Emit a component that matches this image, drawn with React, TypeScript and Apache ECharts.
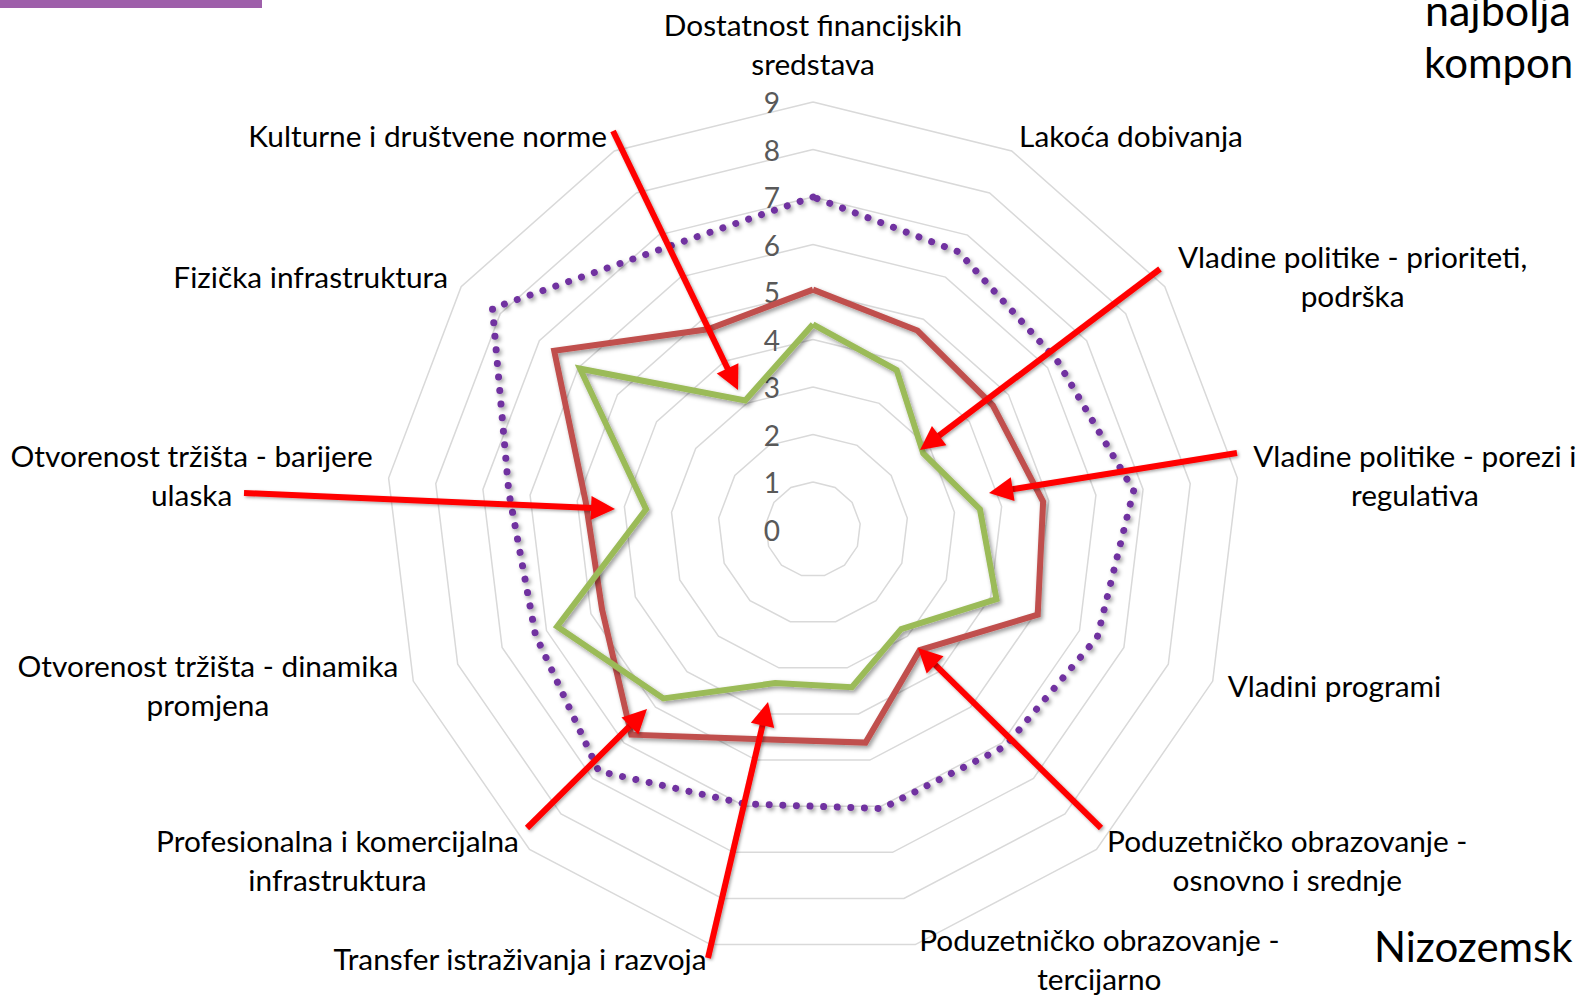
import { useEffect, useRef } from 'react';
import * as echarts from 'echarts';

// Categories, clockwise from the top (Excel order)
const categories: string[] = [
  'Dostatnost financijskih\nsredstava',
  'Lakoća dobivanja',
  'Vladine politike - prioriteti,\npodrška',
  'Vladine politike - porezi i\nregulativa',
  'Vladini programi',
  'Poduzetničko obrazovanje -\nosnovno i srednje',
  'Poduzetničko obrazovanje -\ntercijarno',
  'Transfer istraživanja i razvoja',
  'Profesionalna i komercijalna\ninfrastruktura',
  'Otvorenost tržišta - dinamika\npromjena',
  'Otvorenost tržišta - barijere\nulaska',
  'Fizička infrastruktura',
  'Kulturne i društvene norme',
];

const redValues: number[] = [5.05, 4.73, 4.6, 4.88, 5.06, 3.39, 4.62, 4.55, 5.77, 4.75, 4.82, 6.62, 4.76];
const greenValues: number[] = [4.32, 3.79, 2.82, 3.54, 4.13, 2.8, 3.42, 3.33, 4.75, 5.76, 3.54, 5.96, 3.07];
const purpleValues: number[] = [7.0, 6.6, 6.25, 6.8, 6.4, 6.1, 6.05, 5.95, 6.8, 6.25, 6.45, 8.2, 6.7];

const axisMin = 0;
const axisMax = 9;
const axisSplits = 9;

// annotation arrows: [fromX, fromY, tipX, tipY]
const arrows: number[][] = [
  [613, 131, 738, 390],
  [1160, 269, 920, 450],
  [1237, 453, 989, 493],
  [1101, 828, 918, 648],
  [708, 958, 768, 702],
  [527, 828, 647, 709],
  [244, 493, 615, 509],
];

const FONT = 'Lato, "Open Sans", sans-serif';

function arrowGraphics(a: number[]) {
  const [x1, y1, x2, y2] = a;
  const dx = x2 - x1;
  const dy = y2 - y1;
  const len = Math.sqrt(dx * dx + dy * dy);
  const ux = dx / len;
  const uy = dy / len;
  const headLen = 24;
  const headHalf = 12;
  const bx = x2 - ux * headLen;
  const by = y2 - uy * headLen;
  const px = -uy;
  const py = ux;
  const shadow = { shadowColor: 'rgba(0,0,0,0.35)', shadowBlur: 3, shadowOffsetX: 1.5, shadowOffsetY: 1.5 };
  return [
    {
      type: 'line',
      z: 100,
      shape: { x1, y1, x2: bx + ux * 2, y2: by + uy * 2 },
      style: { stroke: '#FF0000', lineWidth: 6, ...shadow },
    },
    {
      type: 'polygon',
      z: 100,
      shape: {
        points: [
          [x2, y2],
          [bx + px * headHalf, by + py * headHalf],
          [bx - px * headHalf, by - py * headHalf],
        ],
      },
      style: { fill: '#FF0000', ...shadow },
    },
  ];
}

export default function App() {
  const ref = useRef<HTMLDivElement>(null);

  useEffect(() => {
    if (!ref.current) return;
    const chart = echarts.init(ref.current, null, { renderer: 'svg' });

    const n = categories.length;
    // ECharts lays radar indicators out counter-clockwise; reorder to get Excel's clockwise order
    const order = categories.map((_, i) => (n - i) % n);

    const labelStyle = {
      show: true,
      color: '#595959',
      fontFamily: FONT,
      fontSize: 28,
      margin: 33,
      showMinLabel: true,
      showMaxLabel: true,
    };

    const lineShadow = {
      shadowColor: 'rgba(0,0,0,0.4)',
      shadowBlur: 4,
      shadowOffsetX: 2,
      shadowOffsetY: 2.5,
    };

    const option: any = {
      animation: false,
      backgroundColor: '#ffffff',
      radar: {
        center: [813, 529.5],
        radius: 427.5,
        startAngle: 90,
        splitNumber: axisSplits,
        shape: 'polygon',
        nameGap: 16,
        indicator: order.map((k, j) => {
          const ind: any = { name: categories[k], min: axisMin, max: axisMax };
          if (j === 0) ind.axisLabel = { ...labelStyle };
          return ind;
        }),
        axisName: {
          show: true,
          color: '#000000',
          fontFamily: FONT,
          fontSize: 29.8,
          lineHeight: 39,
          padding: [0, 0, 3, 0],
          formatter: (name: string) =>
            name
              .split('\n')
              .map((l) => `{c|${l}}`)
              .join('\n'),
          rich: {
            c: {
              align: 'center',
              color: '#000000',
              fontFamily: FONT,
              fontSize: 29.8,
              lineHeight: 39,
            },
          },
        },
        axisLine: { show: false },
        axisTick: { show: false },
        axisLabel: { show: false },
        splitLine: { lineStyle: { color: '#D9D9D9', width: 1.5 } },
        splitArea: { show: false },
      },
      series: [
        {
          type: 'radar',
          symbol: 'none',
          silent: true,
          data: [
            {
              name: 'Serija 3',
              value: order.map((k) => purpleValues[k]),
              itemStyle: { color: '#7030A0' },
              lineStyle: {
                color: '#7030A0',
                width: 7,
                type: [0.01, 13.6],
                cap: 'round',
                join: 'round',
                ...lineShadow,
              },
            },
            {
              name: 'Serija 1',
              value: order.map((k) => redValues[k]),
              itemStyle: { color: '#C0504D' },
              lineStyle: { color: '#C0504D', width: 6, join: 'miter', ...lineShadow },
            },
            {
              name: 'Serija 2',
              value: order.map((k) => greenValues[k]),
              itemStyle: { color: '#9BBB59' },
              lineStyle: { color: '#9BBB59', width: 6, join: 'miter', ...lineShadow },
            },
          ],
        },
      ],
      graphic: [
        {
          type: 'rect',
          shape: { x: 0, y: 0, width: 262, height: 8 },
          style: { fill: '#9E5FAA' },
        },
        {
          type: 'text',
          x: 1425,
          y: 9,
          style: {
            text: 'najbolja',
            font: `43px ${FONT}`,
            fill: '#000000',
            textAlign: 'left',
            textVerticalAlign: 'middle',
          },
        },
        {
          type: 'text',
          x: 1424,
          y: 62,
          style: {
            text: 'kompon',
            font: `42px ${FONT}`,
            fill: '#000000',
            textAlign: 'left',
            textVerticalAlign: 'middle',
          },
        },
        {
          type: 'text',
          x: 1374,
          y: 946,
          style: {
            text: 'Nizozemsk',
            font: `42px ${FONT}`,
            fill: '#000000',
            textAlign: 'left',
            textVerticalAlign: 'middle',
          },
        },
        ...arrows.flatMap((a) => arrowGraphics(a)),
      ],
    };

    chart.setOption(option);
    return () => {
      chart.dispose();
    };
  }, []);

  return (
    <div
      ref={ref}
      style={{ position: 'fixed', left: 0, top: 0, width: 1579, height: 995, overflow: 'hidden' }}
    />
  );
}
